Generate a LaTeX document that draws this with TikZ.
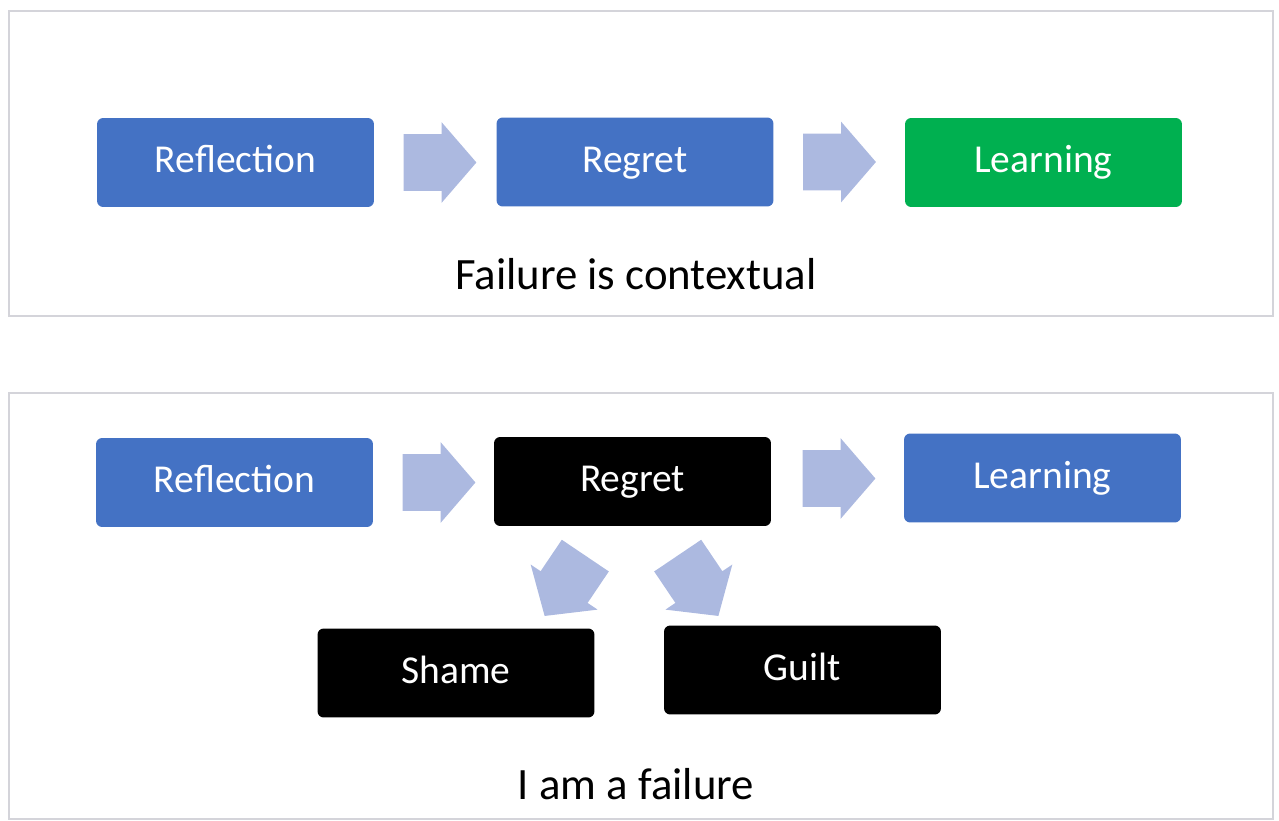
\documentclass[tikz,border=0pt]{standalone}
\usepackage{fontspec}
\setmainfont{Carlito}
\usetikzlibrary{shapes.arrows,calc}

\definecolor{stageblue}{RGB}{68,114,196}
\definecolor{stagegreen}{RGB}{0,176,80}
\definecolor{flowgray}{RGB}{172,185,224}
\definecolor{framegray}{RGB}{212,212,218}

\tikzset{
  stage/.style={rectangle, rounded corners=3.5pt, inner sep=0pt,
    minimum width=5.54cm, minimum height=1.78cm, text=white,
    text height=16pt, text depth=4.3pt,
    font=\fontsize{22.5}{26}\selectfont},
  flow/.style={single arrow, fill=flowgray, draw=none, inner sep=0pt,
    text height=0.56cm, text depth=0.56cm, anchor=tail, xscale=0.91,
    minimum width=1.34cm, minimum height=1.6cm,
    single arrow head extend=0.24cm, single arrow tip angle=93},
  panel/.style={draw=framegray, line width=1.1pt},
  caption/.style={font=\fontsize{25.5}{30}\selectfont, text=black}
}

\begin{document}
\begin{tikzpicture}[x=0.02cm, y=-0.02cm]
        \useasboundingbox (0, 0) rectangle (1279, 821);

        % upper panel: regret leads on to learning
        \draw[panel] (9, 11) rectangle (1273, 316);
        \node[stage, fill=stageblue] (refA) at (235.5, 162.5) {Reflection};
        \node[stage, fill=stageblue] (regA) at (635, 162) {Regret};
        \node[stage, fill=stagegreen] (learnA) at (1043.5, 162.5) {Learning};
        \node[flow] (fA1) at ($(refA.east)+(29, 0)$) {};
        \node[flow] (fA2) at ($(regA.east)+(29, 0)$) {};
        \node[caption] (capA) at (636, 274) {Failure is contextual};

        % lower panel: regret turns into shame and guilt
        \draw[panel] (9, 393) rectangle (1273, 819);
        \node[stage, fill=stageblue] (refB) at (234.5, 482.5) {Reflection};
        \node[stage, fill=black] (regB) at (632.5, 481.5) {Regret};
        \node[stage, fill=stageblue] (learnB) at (1042.5, 478) {Learning};
        \node[flow] (fB1) at ($(refB.east)+(29, 0)$) {};
        \node[flow] (fB2) at ($(regB.east)+(31, -3)$) {};
        \node[stage, fill=black] (shame) at (456, 673) {Shame};
        \node[stage, fill=black] (guilt) at (802.5, 670) {Guilt};
        \node[rotate=236, flow] (fB3) at ($(regB.south)+(-47, 29)$) {};
        \node[rotate=304, flow] (fB4) at ($(regB.south)+(45, 29)$) {};
        \node[caption] (capB) at (636, 784) {I am a failure};
      \end{tikzpicture}
\end{document}
